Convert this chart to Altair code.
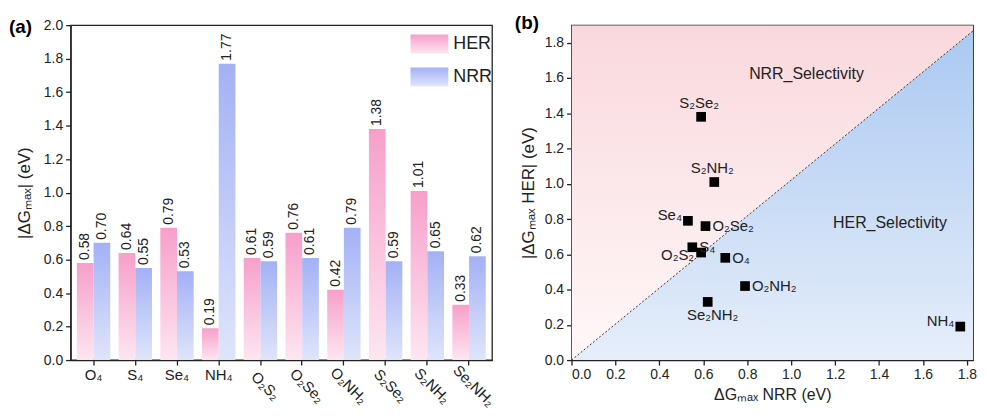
import altair as alt
import pandas as pd

# ---------------- data ----------------
categories = ["O₄", "S₄", "Se₄", "NH₄", "O₂S₂", "O₂Se₂", "O₂NH₂", "S₂Se₂", "S₂NH₂", "Se₂NH₂"]
her_values = [0.58, 0.64, 0.79, 0.19, 0.61, 0.76, 0.42, 1.38, 1.01, 0.33]
nrr_values = [0.70, 0.55, 0.53, 1.77, 0.59, 0.61, 0.79, 0.59, 0.65, 0.62]
series_names = ["HER", "NRR"]
label_tilt = [0, 0, 0, 0, 45, 45, 45, 45, 45, 45]
y_ticks_a = [0.0, 0.2, 0.4, 0.6, 0.8, 1.0, 1.2, 1.4, 1.6, 1.8, 2.0]
x_ticks_b = [0.0, 0.2, 0.4, 0.6, 0.8, 1.0, 1.2, 1.4, 1.6, 1.8]
y_ticks_b = [0.0, 0.2, 0.4, 0.6, 0.8, 1.0, 1.2, 1.4, 1.6, 1.8]
region_names = ["NRR_Selectivity", "HER_Selectivity"]
region_x = [1.07, 1.45]
region_y = [1.625, 0.776]
point_placement = ["right", "right", "upleft", "upleft", "downleft",
                   "right", "right", "above", "above", "below"]
diag_corner = [1.86, 1.9]   # dividing line runs from the origin to this corner

# ---------------- styles ----------------
FONT = "Liberation Sans"
INK = "#222222"
H = 337
W_A = 424
W_B = 404
X_MAX_B = 1.828
Y_MAX_B = 1.9

her_grad = ("{gradient: 'linear', x1: 0, y1: 0, x2: 0, y2: 1, stops: ["
            "{offset: 0, color: '#f79fca'}, {offset: 1, color: '#fde6f1'}]}")
nrr_grad = ("{gradient: 'linear', x1: 0, y1: 0, x2: 0, y2: 1, stops: ["
            "{offset: 0, color: '#a3b1f5'}, {offset: 1, color: '#dfe5fb'}]}")

# ---------------- panel (a) ----------------
bars = pd.DataFrame({
    "cat": categories * 2,
    "series": ["HER"] * len(categories) + ["NRR"] * len(categories),
    "value": her_values + nrr_values,
})
bars["label"] = bars["value"].map(lambda v: f"{v:.2f}")

x_a = alt.X("cat:N", sort=categories,
            scale=alt.Scale(paddingInner=0.2, paddingOuter=0.15),
            axis=alt.Axis(title=None, labels=False, ticks=True, bandPosition=0.5))
y_a = alt.Y("value:Q", scale=alt.Scale(domain=[0, 2], nice=False),
            axis=alt.Axis(values=y_ticks_a, tickCount=40, format=".1f", title="|ΔGₘₐₓ| (eV)",
                          titlePadding=10))
xoff = alt.XOffset("series:N", scale=alt.Scale(domain=series_names, paddingInner=0, paddingOuter=0))

bar_layer = alt.Chart(bars).mark_bar(strokeWidth=0).encode(
    x=x_a, xOffset=xoff, y=y_a,
    color=alt.Color("series:N",
                    scale=alt.Scale(domain=series_names,
                                    range=[{"expr": her_grad}, {"expr": nrr_grad}]),
                    legend=alt.Legend(title=None, orient="top-right", offset=0, padding=0,
                                      symbolType="M-1,-0.5H1V0.5H-1Z", symbolSize=1444,
                                      symbolStrokeWidth=0, symbolOpacity=1,
                                      labelFontSize=18, labelFont=FONT, labelColor=INK,
                                      labelOffset=5, rowPadding=4)),
)

value_labels = alt.Chart(bars).mark_text(
    angle=270, align="left", baseline="middle", dx=3, fontSize=14, font=FONT, color=INK
).encode(x=alt.X("cat:N", sort=categories), xOffset=xoff, y="value:Q", text="label:N")

cat_df = pd.DataFrame({"cat": categories, "tilt": label_tilt})
flat_labels = alt.Chart(cat_df).transform_filter("datum.tilt == 0").mark_text(
    baseline="top", align="center", fontSize=15, font=FONT, color=INK
).encode(x=alt.X("cat:N", sort=categories), y=alt.value(H + 8), text="cat:N")
tilt_labels = alt.Chart(cat_df).transform_filter("datum.tilt > 0").mark_text(
    angle=45, baseline="middle", align="center", dx=7, fontSize=15, font=FONT, color=INK
).encode(x=alt.X("cat:N", sort=categories), y=alt.value(H + 21), text="cat:N")

tag_a = alt.Chart(pd.DataFrame({"t": ["(a)"]})).mark_text(
    align="left", baseline="middle", fontSize=19, fontWeight="bold", font=FONT, color="black"
).encode(x=alt.value(-62), y=alt.value(1.5), text="t:N")

panel_a = alt.layer(bar_layer, value_labels, flat_labels, tilt_labels, tag_a).properties(
    width=W_A, height=H)

# ---------------- panel (b) ----------------
xs_b = alt.Scale(domain=[0, X_MAX_B], nice=False, zero=True)
ys_b = alt.Scale(domain=[0, Y_MAX_B], nice=False, zero=True)
x_axis_b = alt.Axis(values=x_ticks_b, tickCount=40, format=".1f", title="ΔGₘₐₓ NRR (eV)",
                    titlePadding=5, titleFontSize=16)
y_axis_b = alt.Axis(values=y_ticks_b, tickCount=40, format=".1f", title="|ΔGₘₐₓ HER| (eV)",
                    titlePadding=7)

diag = pd.DataFrame({"x": [0, diag_corner[0]], "y": [0, diag_corner[1]],
                     "top": [diag_corner[1]] * 2, "base": [0, 0]})

pink = alt.Chart(diag).mark_area(
    clip=True,
    color=alt.LinearGradient(gradient="linear", x1=0, y1=0, x2=0, y2=1,
                             stops=[alt.GradientStop(offset=0, color="#f9d8dd"),
                                    alt.GradientStop(offset=1, color="#fff8f8")])
).encode(x=alt.X("x:Q", scale=xs_b, axis=x_axis_b),
         y=alt.Y("y:Q", scale=ys_b, axis=y_axis_b), y2="top:Q")
blue = alt.Chart(diag).mark_area(
    clip=True,
    color=alt.LinearGradient(gradient="linear", x1=0, y1=0, x2=0, y2=1,
                             stops=[alt.GradientStop(offset=0, color="#aac8f1"),
                                    alt.GradientStop(offset=1, color="#e6eefa")])
).encode(x="x:Q", y="y:Q", y2="base:Q")
diag_line = alt.Chart(diag).mark_line(clip=True, strokeDash=[2, 2], color="#333333",
                                      strokeWidth=1).encode(x="x:Q", y="y:Q")

pts = pd.DataFrame({"name": categories, "x": nrr_values, "y": her_values, "place": point_placement})
squares = alt.Chart(pts).mark_square(size=95, color="black", opacity=1, filled=True).encode(
    x="x:Q", y="y:Q")

place_style = {
    "right": dict(align="left", baseline="middle", dx=7, dy=0),
    "upleft": dict(align="right", baseline="middle", dx=-6, dy=-6),
    "downleft": dict(align="right", baseline="middle", dx=-7, dy=3),
    "above": dict(align="center", baseline="bottom", dx=-2, dy=-6),
    "below": dict(align="center", baseline="top", dx=5, dy=6),
}
point_labels = [
    alt.Chart(pts).transform_filter(f"datum.place == '{p}'").mark_text(
        fontSize=15, font=FONT, color=INK, **st
    ).encode(x="x:Q", y="y:Q", text="name:N")
    for p, st in place_style.items()
]

regions = pd.DataFrame({"t": region_names, "x": region_x, "y": region_y})
region_text = alt.Chart(regions).mark_text(fontSize=16, font=FONT, color=INK).encode(
    x="x:Q", y="y:Q", text="t:N")

tag_b = alt.Chart(pd.DataFrame({"t": ["(b)"]})).mark_text(
    align="left", baseline="middle", fontSize=19, fontWeight="bold", font=FONT, color="black"
).encode(x=alt.value(-57), y=alt.value(-2.5), text="t:N")

panel_b = alt.layer(pink, blue, diag_line, squares, *point_labels, region_text, tag_b).properties(
    width=W_B, height=H)

chart = alt.hconcat(panel_a, panel_b, spacing=80, bounds="flush").resolve_legend(
    color="independent"
).properties(
    padding={"top": 3, "left": 0, "right": 0, "bottom": 0}
).configure_view(
    stroke=INK, strokeWidth=1.3
).configure_axis(
    labelFont=FONT, titleFont=FONT, labelFontSize=14, titleFontSize=17,
    labelColor=INK, titleColor=INK, domainColor=INK, tickColor=INK,
    tickSize=5, grid=False, titleFontWeight="normal", domainWidth=1.3, tickWidth=1.3,
    labelPadding=3
)

chart.save("out.html", embed_options={"renderer": "svg", "actions": False})
